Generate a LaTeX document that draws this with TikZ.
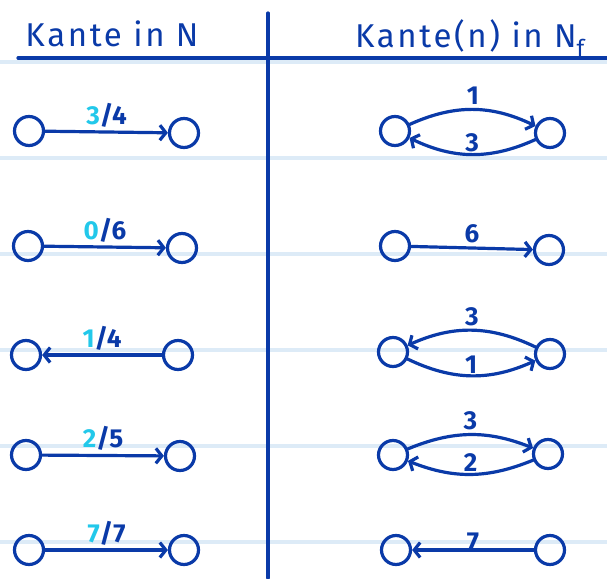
\documentclass[tikz,border=0pt]{standalone}
\usepackage{fontspec}
\setmainfont{Fira Sans}
\newfontfamily\headfont{Fira Sans}[LetterSpace=8]
\usepackage{xcolor}
\usetikzlibrary{arrows.meta, positioning}

\definecolor{ink}{HTML}{0A3AA8}
\definecolor{flowcol}{HTML}{22C8EA}
\definecolor{rulecol}{HTML}{DDEBF7}

\newcommand{\fl}[1]{{\color{flowcol}#1}}

\tikzset{
  vertex/.style={circle, draw=ink, line width=3.2pt, minimum size=29pt, inner sep=0pt},
  kante/.style={draw=ink, line width=3.2pt, line cap=round,
    -{Straight Barb[length=6pt,width=15pt]}},
  head/.style={text=ink, font=\headfont\fontsize{33}{36}\selectfont},
  lbl/.style={text=ink, font=\fontsize{26}{28}\selectfont\bfseries, inner sep=1pt},
}

\begin{document}
\begin{tikzpicture}[x=1pt, y=-1pt]
  \useasboundingbox (0,0) rectangle (607,578);

  % Linien vom Papier
  \foreach \y in {62,158,254,350,446,542}
    \draw[rulecol, line width=4pt] (0,\y) -- (607,\y);

  % Tabellenkopf
  \node[head] (kopfN) at (112,34) {Kante in N};
  \node[head] (kopfNf) at (470,38) {Kante(n) in N\textsubscript{f}};
  \draw[ink, line width=3.2pt, line cap=round] (18,58) -- (607,58);
  \draw[ink, line width=3.2pt, line cap=round] (268,13) -- (268,578);

  % linke Spalte: Kanten in N
  \node[vertex] (l1a) at (29,131) {};
  \node[vertex] (l1b) at (184,133) {};
  \node[vertex] (l2a) at (28,246) {};
  \node[vertex] (l2b) at (182,248) {};
  \node[vertex] (l3a) at (26,355) {};
  \node[vertex] (l3b) at (178,355) {};
  \node[vertex] (l4a) at (26,455) {};
  \node[vertex] (l4b) at (180,456) {};
  \node[vertex] (l5a) at (29,550) {};
  \node[vertex] (l5b) at (184,550) {};

  \draw[kante] (l1a) -- node[lbl, above=2pt] {\fl{3}/4} (l1b);
  \draw[kante] (l2a) -- node[lbl, above=2pt] {\fl{0}/6} (l2b);
  \draw[kante] (l3b) -- node[lbl, above=2pt] {\fl{1}/4} (l3a);
  \draw[kante] (l4a) -- node[lbl, above=2pt] {\fl{2}/5} (l4b);
  \draw[kante] (l5a) -- node[lbl, above=2pt] {\fl{7}/7} (l5b);

  % rechte Spalte: Residualkanten in N_f
  \node[vertex] (r1a) at (395,131) {};
  \node[vertex] (r1b) at (550,133) {};
  \node[vertex] (r2a) at (395,246) {};
  \node[vertex] (r2b) at (549,250) {};
  \node[vertex] (r3a) at (393,352) {};
  \node[vertex] (r3b) at (550,354) {};
  \node[vertex] (r4a) at (393,455) {};
  \node[vertex] (r4b) at (548,454) {};
  \node[vertex] (r5a) at (396,550) {};
  \node[vertex] (r5b) at (550,550) {};

  \draw[kante] (r1a) to[bend left=25] node[lbl, above=2pt] {1} (r1b);
  \draw[kante] (r1b) to[bend left=25] node[lbl, above=0pt] {3} (r1a);
  \draw[kante] (r2a) -- node[lbl, above=2pt] {6} (r2b);
  \draw[kante] (r3b) to[bend right=25] node[lbl, above=2pt] {3} (r3a);
  \draw[kante] (r3a) to[bend right=25] node[lbl, above=0pt] {1} (r3b);
  \draw[kante] (r4a) to[bend left=22] node[lbl, above=2pt] {3} (r4b);
  \draw[kante] (r4b) to[bend left=22] node[lbl, above=0pt] {2} (r4a);
  \draw[kante] (r5b) -- node[lbl, above=-4pt] {7} (r5a);
\end{tikzpicture}
\end{document}
